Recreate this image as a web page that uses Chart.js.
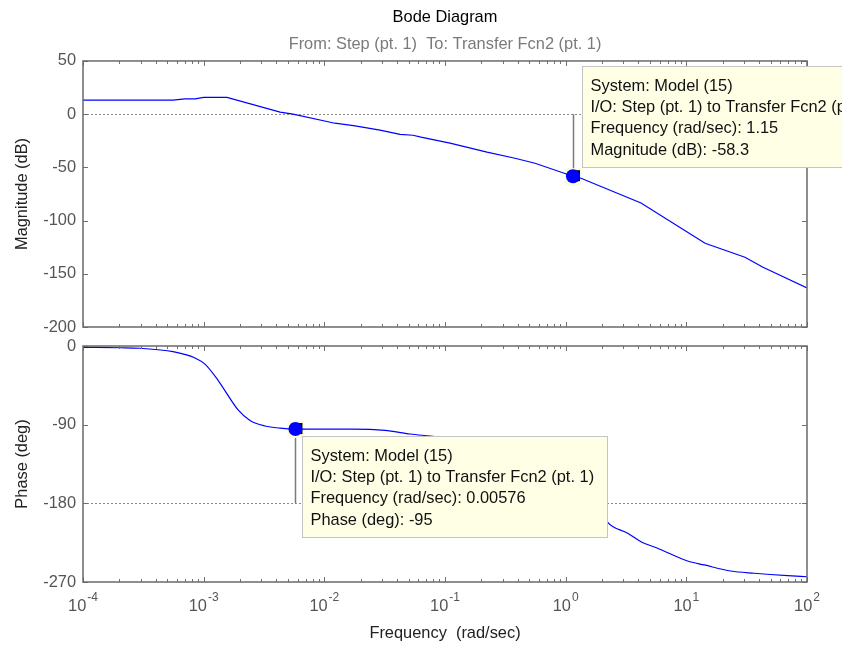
<!DOCTYPE html>
<html>
<head>
<meta charset="utf-8">
<title>Bode Diagram</title>
<script src="https://cdn.jsdelivr.net/npm/chart.js@4.4.0/dist/chart.umd.min.js"></script>
<style>
  html, body { margin: 0; padding: 0; background: #fff; }
  #wrap { position: relative; width: 842px; height: 646px; }
  #wrap canvas { position: absolute; left: 0; }
  #magChart { top: 0; }
  #phaseChart { top: 316px; }
</style>
</head>
<body>
<div id="wrap">
  <canvas id="magChart" width="842" height="356"></canvas>
  <canvas id="phaseChart" width="842" height="330"></canvas>
</div>
<script>
// magnitude curve (rad/sec, dB)
const magFreq = [1e-4, 5.57e-4, 7.0e-4, 8.5e-4, 1.0e-3, 1.56e-3, 4.3e-3, 5.5e-3, 0.01225, 0.018,
                 0.0289, 0.0424, 0.0543, 0.0632, 0.110, 0.223, 0.380, 0.557, 1.15, 1.34,
                 4.21, 14.3, 30.6, 43.2, 100];
const magDb = [13.2, 13.2, 14.4, 14.4, 15.8, 15.8, 1.9, 0, -8.5, -11.0,
               -15.0, -18.9, -19.8, -21.6, -27.2, -35.7, -41.4, -46.1, -58.3, -60.2,
               -83.5, -121.3, -134.4, -143.8, -163.2];

// phase curve (rad/sec, deg)
const phaseFreq = [1e-4, 2.03e-4, 2.96e-4, 5.57e-4, 8.47e-4, 1.03e-3, 1.32e-3, 1.93e-3, 2.42e-3, 3.22e-3,
                   4.3e-3, 5.76e-3, 0.01725, 0.0318, 0.0513, 0.0752, 0.161, 0.418, 0.898, 1.59,
                   2.20, 3.27, 4.21, 5.78, 10.25, 14.1, 23.4, 36.6, 69.2, 100];
const phaseDeg = [-1.5, -2.0, -2.6, -6.5, -13.7, -21.0, -39.5, -73.2, -85.2, -91.5,
                  -94.0, -95.0, -95.0, -96.5, -100.7, -103, -108, -120, -140, -165,
                  -201, -214.3, -223.9, -231.4, -246, -250.5, -257.4, -260, -262.8, -264];

// data tips
const magTipFreq = [1.15];
const magTipDb = [-58.3];
const magTipText = ['System: Model (15)', 'I/O: Step (pt. 1) to Transfer Fcn2 (pt. 1)',
                    'Frequency (rad/sec): 1.15', 'Magnitude (dB): -58.3'];
const phaseTipFreq = [0.00576];
const phaseTipDeg = [-95];
const phaseTipText = ['System: Model (15)', 'I/O: Step (pt. 1) to Transfer Fcn2 (pt. 1)',
                      'Frequency (rad/sec): 0.00576', 'Phase (deg): -95'];

// axes ticks
const freqDecades = [1e-4, 1e-3, 1e-2, 1e-1, 1, 10, 100];
const freqBase = ['10', '10', '10', '10', '10', '10', '10'];
const freqExp = ['-4', '-3', '-2', '-1', '0', '1', '2'];
const magTicks = [-200, -150, -100, -50, 0, 50];
const phaseTicks = [-270, -180, -90, 0];

const FONT = "'Liberation Sans', Arial, sans-serif";
const FS = 16.4;

function freqTicks() {
    var t = [];
    for (var i = 0; i < freqDecades.length; i++) {
        t.push({ value: freqDecades[i], major: true });
        if (i < freqDecades.length - 1) {
            for (var m = 2; m <= 9; m++) t.push({ value: freqDecades[i] * m, major: false });
        }
    }
    return t;
}

// matlab style box, inward ticks and the dotted reference line
const matlabAxes = {
    id: 'matlabAxes',
    beforeDatasetsDraw(chart, args, o) {
        const ctx = chart.ctx, a = chart.chartArea;
        const yr = Math.round(chart.scales.y.getPixelForValue(o.refLine)) + 0.5;
        ctx.save();
        ctx.strokeStyle = '#8a8a8a';
        ctx.lineWidth = 1;
        ctx.setLineDash([2, 2]);
        ctx.beginPath();
        ctx.moveTo(a.left, yr);
        ctx.lineTo(a.right, yr);
        ctx.stroke();
        ctx.restore();
    },
    afterDatasetsDraw(chart, args, o) {
        const ctx = chart.ctx, a = chart.chartArea;
        const xs = chart.scales.x, ys = chart.scales.y;
        ctx.save();
        ctx.strokeStyle = '#707070';
        ctx.lineWidth = 1;
        ctx.beginPath();
        xs.ticks.forEach(function (t) {
            const px = Math.round(xs.getPixelForValue(t.value)) + 0.5;
            const len = t.major ? 5 : 3;
            ctx.moveTo(px, a.top); ctx.lineTo(px, a.top + len);
            ctx.moveTo(px, a.bottom); ctx.lineTo(px, a.bottom - len);
        });
        ys.ticks.forEach(function (t) {
            const py = Math.round(ys.getPixelForValue(t.value)) + 0.5;
            ctx.moveTo(a.left, py); ctx.lineTo(a.left + 5, py);
            ctx.moveTo(a.right, py); ctx.lineTo(a.right - 5, py);
        });
        ctx.stroke();
        ctx.lineWidth = 1.5;
        ctx.strokeStyle = '#6a6a6a';
        ctx.strokeRect(a.left, a.top, a.right - a.left, a.bottom - a.top);

        // decade labels as 10 with a raised exponent
        if (o.decadeLabels) {
            ctx.fillStyle = '#555';
            ctx.textBaseline = 'alphabetic';
            ctx.textAlign = 'left';
            freqDecades.forEach(function (v, i) {
                const px = xs.getPixelForValue(v);
                ctx.font = FS + 'px ' + FONT;
                const wb = ctx.measureText(freqBase[i]).width;
                ctx.font = '12px ' + FONT;
                const we = ctx.measureText(freqExp[i]).width;
                const x0 = px - (wb + 1 + we) / 2;
                ctx.font = FS + 'px ' + FONT;
                ctx.fillText(freqBase[i], x0, a.bottom + 29);
                ctx.font = '12px ' + FONT;
                ctx.fillText(freqExp[i], x0 + wb + 1, a.bottom + 19);
            });
        }
        ctx.restore();
    }
};

// data tip: marker backing, stem and yellow text box
const datatip = {
    id: 'datatip',
    beforeDatasetsDraw(chart, args, o) {
        const pt = chart.getDatasetMeta(1).data[0];
        const ctx = chart.ctx;
        const yStem = chart.scales.y.getPixelForValue(o.stemTo);
        const sx = Math.round(pt.x) + 0.5;
        ctx.save();
        ctx.strokeStyle = '#7a7a7a';
        ctx.lineWidth = 1.5;
        ctx.beginPath();
        ctx.moveTo(sx, pt.y);
        ctx.lineTo(sx, yStem);
        ctx.stroke();
        ctx.fillStyle = '#fbfbd8';
        ctx.fillRect(pt.x - 8, pt.y - 8, 17, 17);
        ctx.fillStyle = '#000';
        ctx.fillRect(pt.x - 4, pt.y - 6, 11, 11);
        ctx.restore();
    },
    afterDraw(chart, args, o) {
        const pt = chart.getDatasetMeta(1).data[0];
        const ctx = chart.ctx;
        const left = Math.round(pt.x + o.dx) + 0.5;
        const top = Math.round(pt.y + o.dy) + 0.5;
        ctx.save();
        ctx.fillStyle = '#ffffe6';
        ctx.strokeStyle = '#c4c4c4';
        ctx.lineWidth = 1;
        ctx.fillRect(left, top, 305, 101);
        ctx.strokeRect(left, top, 305, 101);
        ctx.fillStyle = '#111';
        ctx.font = FS + 'px ' + FONT;
        ctx.textBaseline = 'middle';
        ctx.textAlign = 'left';
        o.lines.forEach(function (s, i) {
            ctx.fillText(s, left + 8, top + 20 + i * 21.2);
        });
        ctx.restore();
    }
};

function curve(fx, fy) {
    return fx.map(function (f, i) { return { x: f, y: fy[i] }; });
}

function xScale(showTitle) {
    return {
        type: 'logarithmic',
        min: 1e-4,
        max: 100,
        grid: { display: false, drawTicks: false },
        border: { display: false },
        afterBuildTicks: function (scale) { scale.ticks = freqTicks(); },
        afterFit: function (scale) { scale.height = showTitle ? 64 : 0; },
        ticks: { display: false },
        title: {
            display: showTitle,
            text: 'Frequency  (rad/sec)',
            color: '#222',
            font: { family: FONT, size: FS },
            padding: { top: 0, bottom: 3 }
        }
    };
}

function yScale(ticks, title) {
    return {
        min: ticks[0],
        max: ticks[ticks.length - 1],
        grid: { display: false, drawTicks: false },
        border: { display: false },
        afterBuildTicks: function (scale) {
            scale.ticks = ticks.map(function (v) { return { value: v }; });
        },
        afterFit: function (scale) { scale.width = 83; },
        ticks: {
            padding: 7,
            color: '#555',
            font: { family: FONT, size: FS }
        },
        title: {
            display: true,
            text: title,
            color: '#222',
            font: { family: FONT, size: FS },
            padding: { top: 13, bottom: 0 }
        }
    };
}

const magConfig = {
    type: 'line',
    data: {
        datasets: [{
            data: curve(magFreq, magDb),
            borderColor: '#0000ff',
            borderWidth: 1.2,
            pointRadius: 0,
            tension: 0
        }, {
            data: curve(magTipFreq, magTipDb),
            showLine: false,
            pointRadius: 7,
            pointBackgroundColor: '#0000ff',
            pointBorderWidth: 0
        }]
    },
    options: {
        responsive: false,
        animation: false,
        events: [],
        layout: { padding: { left: 0, right: 35, top: 0, bottom: 29 } },
        scales: { x: xScale(false), y: yScale(magTicks, 'Magnitude (dB)') },
        plugins: {
            legend: { display: false },
            tooltip: { enabled: false },
            title: {
                display: true,
                text: 'Bode Diagram',
                fullSize: false,
                color: '#000',
                font: { family: FONT, size: FS, weight: 'normal' },
                padding: { top: 8, bottom: 0 }
            },
            subtitle: {
                display: true,
                text: 'From: Step (pt. 1)  To: Transfer Fcn2 (pt. 1)',
                fullSize: false,
                color: '#7a7a7a',
                font: { family: FONT, size: FS },
                padding: { top: 6.5, bottom: 7.1 }
            },
            matlabAxes: { refLine: 0, decadeLabels: false },
            datatip: { dx: 9, dy: -110, stemTo: 0, lines: magTipText }
        }
    },
    plugins: [matlabAxes, datatip]
};

const phaseConfig = {
    type: 'line',
    data: {
        datasets: [{
            data: curve(phaseFreq, phaseDeg),
            borderColor: '#0000ff',
            borderWidth: 1.2,
            pointRadius: 0,
            cubicInterpolationMode: 'monotone'
        }, {
            data: curve(phaseTipFreq, phaseTipDeg),
            showLine: false,
            pointRadius: 7,
            pointBackgroundColor: '#0000ff',
            pointBorderWidth: 0
        }]
    },
    options: {
        responsive: false,
        animation: false,
        events: [],
        layout: { padding: { left: 0, right: 35, top: 30, bottom: 0 } },
        scales: { x: xScale(true), y: yScale(phaseTicks, 'Phase (deg)') },
        plugins: {
            legend: { display: false },
            tooltip: { enabled: false },
            matlabAxes: { refLine: -180, decadeLabels: true },
            datatip: { dx: 7, dy: 7, stemTo: -180, lines: phaseTipText }
        }
    },
    plugins: [matlabAxes, datatip]
};

const magChart = new Chart(document.getElementById('magChart'), magConfig);
const phaseChart = new Chart(document.getElementById('phaseChart'), phaseConfig);
</script>
</body>
</html>
